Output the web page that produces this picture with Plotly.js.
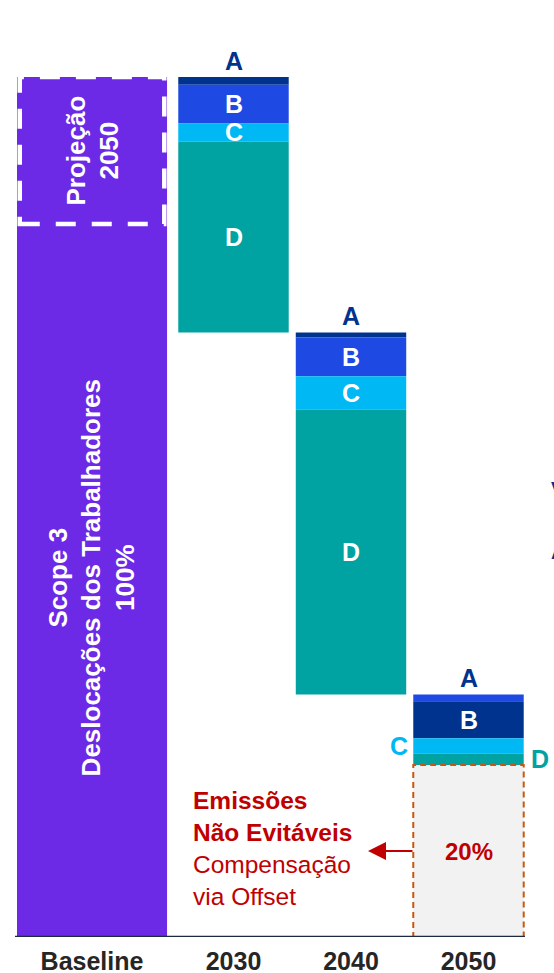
<!DOCTYPE html>
<html>
<head>
<meta charset="utf-8">
<script src="https://cdn.plot.ly/plotly-3.0.1.min.js"></script>
<style>
html, body { margin: 0; padding: 0; background: #fff; }
#chart { width: 554px; height: 973px; }
</style>
</head>
<body>
<div id="chart"></div>
<script>
// data (percent of baseline emissions)
const categories = ['Baseline', '2030', '2040', '2050'];
const years = ['2030', '2040', '2050'];
const baselineValue = 100;
const projecaoValue = 17.1;
const segNames = ['A', 'B', 'C', 'D'];
const segA = [0.9, 0.6, 0.8];
const segB = [4.5, 4.5, 4.3];
const segC = [2.1, 3.9, 1.8];
const segD = [22.2, 33.1, 1.3];
const offsetValue = 20;

// layout stuff
const slot = {'Baseline': -0.204, '2030': 1, '2040': 2, '2050': 3};
const wideW = 1.277, stepW = 0.94;
const font = 'Liberation Sans, Arial, sans-serif';
const purple = '#6C2AE6', navy = '#00338E', blue = '#1F49E3', cyan = '#00B8F4', teal = '#00A3A1', red = '#C00000';
const segColors = [[navy, navy, blue], [blue, blue, navy], [cyan, cyan, cyan], [teal, teal, teal]];

// waterfall: each year starts where the previous one ended
const segs = [segA, segB, segC, segD];
const tops = [];
const bases = segs.map(() => []);
let level = baselineValue;
years.forEach((y, i) => {
    tops.push(level);
    let cur = level;
    segs.forEach((s, k) => { cur -= s[i]; bases[k].push(cur); });
    level = cur;
});

const xs = years.map(y => slot[y]);

const traces = [{
    type: 'bar', x: [slot.Baseline], y: [baselineValue], base: [0], width: [wideW],
    marker: {color: purple}, name: 'Baseline'
}];
segs.forEach((s, k) => {
    traces.push({
        type: 'bar', x: xs, y: s, base: bases[k], width: xs.map(() => stepW),
        marker: {color: segColors[k]}, name: segNames[k]
    });
});
traces.push({
    type: 'bar', x: [slot['2050']], y: [offsetValue], base: [0], width: [stepW],
    marker: {color: '#F2F2F2'}, name: 'Offset'
});

const annotations = [];
// A on top of each bar
xs.forEach((x, i) => {
    annotations.push({x: x, y: tops[i], yanchor: 'bottom', text: '<b>A</b>', showarrow: false,
        font: {family: font, size: 25, color: navy}});
});
// B, C, D labels
[1, 2, 3].forEach(k => {
    xs.forEach((x, i) => {
        const mid = bases[k][i] + segs[k][i] / 2;
        const ann = {x: x, y: mid, text: '<b>' + segNames[k] + '</b>', showarrow: false,
            font: {family: font, size: 25, color: 'white'}};
        if (i === 2 && k === 2) {
            ann.x = x - stepW / 2; ann.xanchor = 'right'; ann.xshift = -3; ann.font.color = cyan;
        } else if (i === 2 && k === 3) {
            ann.x = x + stepW / 2; ann.xanchor = 'left'; ann.xshift = 5; ann.font.color = teal;
        }
        annotations.push(ann);
    });
});
annotations.push(
    {x: slot.Baseline, y: 41.7, textangle: -90, showarrow: false,
     text: '<b>Scope 3<br>Deslocações dos Trabalhadores<br>100%</b>',
     font: {family: font, size: 26, color: 'white'}},
    {x: slot.Baseline, y: baselineValue - projecaoValue / 2, textangle: -90, showarrow: false,
     text: '<b>Projeção<br>2050</b>', font: {family: font, size: 26, color: 'white'}},
    {x: slot['2050'], y: offsetValue / 2, text: '<b>20%</b>', showarrow: false,
     font: {family: font, size: 24, color: red}},
    {xref: 'paper', x: 191 / 554, y: offsetValue / 2, yshift: 3, xanchor: 'left', align: 'left', showarrow: false,
     text: '<b>Emissões</b><br><b>Não Evitáveis</b><br>Compensação<br>via Offset',
     font: {family: font, size: 24.5, color: red}},
    {xref: 'paper', x: 368 / 554, y: offsetValue / 2, ax: 46, ay: 0, text: '', showarrow: true,
     arrowhead: 2, arrowsize: 1.8, arrowwidth: 2, arrowcolor: red, standoff: 0},
    {xref: 'paper', x: 549 / 554, y: 52.1, xanchor: 'left', text: '<b>V</b>', showarrow: false,
     font: {family: font, size: 20, color: navy}},
    {xref: 'paper', x: 549 / 554, y: 44.8, xanchor: 'left', text: '<b>A</b>', showarrow: false,
     font: {family: font, size: 20, color: navy}}
);

const shapes = [
    // dashed projection box inside baseline
    {type: 'rect', x0: slot.Baseline - 0.615, x1: slot.Baseline + 0.615,
     y0: baselineValue - projecaoValue, y1: baselineValue,
     line: {color: 'white', width: 4.5, dash: '20px,16px'}},
    // dashed outline of offset box
    {type: 'rect', x0: slot['2050'] - stepW / 2, x1: slot['2050'] + stepW / 2, y0: 0, y1: offsetValue,
     line: {color: '#C65911', width: 2, dash: '6px,4px'}},
    // baseline axis line
    {type: 'line', x0: -0.86, x1: 3.48, y0: 0, y1: 0, line: {color: '#1B2A41', width: 2.5}}
];

const layout = {
    width: 554, height: 973,
    margin: {l: 0, r: 0, t: 0, b: 36},
    paper_bgcolor: 'white', plot_bgcolor: 'white',
    barmode: 'overlay', showlegend: false, hovermode: false,
    xaxis: {
        range: [-0.9872, 3.7277], showgrid: false, zeroline: false, showline: false, ticks: '',
        tickvals: categories.map(c => slot[c]), ticktext: categories, ticklabelstandoff: 7,
        tickfont: {family: font, size: 25, color: '#262626', weight: 'bold'}
    },
    yaxis: {range: [0, 108.95], visible: false},
    annotations: annotations,
    shapes: shapes
};

Plotly.newPlot('chart', traces, layout, {displayModeBar: false, staticPlot: true});
</script>
</body>
</html>
